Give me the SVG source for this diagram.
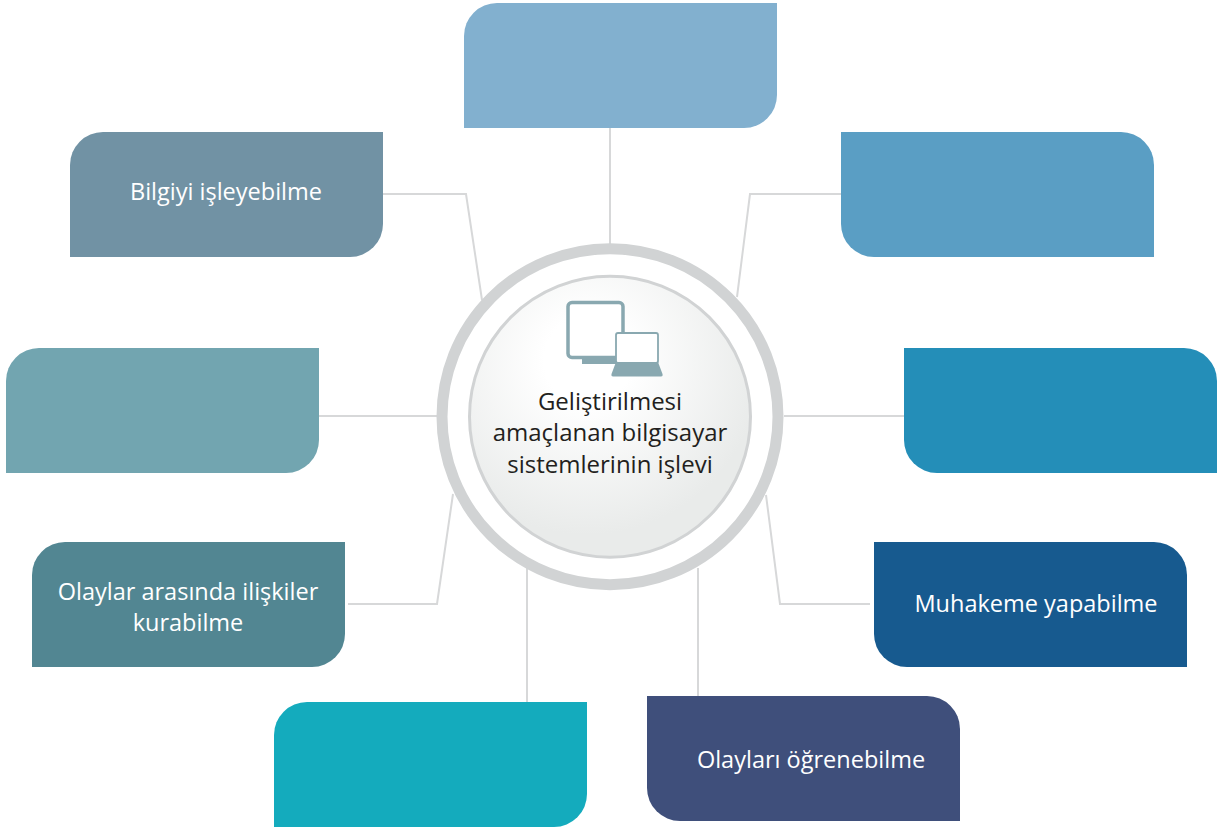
<svg xmlns="http://www.w3.org/2000/svg" width="1220" height="829" viewBox="0 0 1220 829">
<style>
.l{font-family:"Open Sans","Noto Sans",sans-serif;font-size:23.5px;fill:#fff;text-anchor:middle}
.c{font-family:"Open Sans","Noto Sans",sans-serif;font-size:24px;fill:#231f20;text-anchor:middle}
.w{fill:none;stroke:#d7d8d9;stroke-width:2}
</style>
<defs>
<path id="a" d="M33 0H313V92A33 33 0 0 1 280 125H0V33A33 33 0 0 1 33 0Z"/>
<path id="b" d="M0 0H280A33 33 0 0 1 313 33V125H33A33 33 0 0 1 0 92Z"/>
<radialGradient id="g" cx="0.42" cy="0.3" r="0.62"><stop offset="0.25" stop-color="#fff"/><stop offset="1" stop-color="#e9ebea"/></radialGradient>
</defs>
<rect width="1220" height="829" fill="#fff"/>
<g id="connectors">
<path class="w" d="M610 128V245"/>
<path class="w" d="M383 194H466L482 300"/>
<path class="w" d="M841 194H750L737 297"/>
<path class="w" d="M319 416H438"/>
<path class="w" d="M784 416H904"/>
<path class="w" d="M348 604H437L453 494"/>
<path class="w" d="M870 604H780L766 495"/>
<path class="w" d="M527 567V702"/>
<path class="w" d="M698 568V696"/>
</g>
<g id="node-top"><use href="#a" x="464" y="3" fill="#82b0cf"/></g>
<g id="node-tl"><use href="#a" x="70" y="132" fill="#7192a4"/><text class="l" x="226" y="200">Bilgiyi işleyebilme</text></g>
<g id="node-tr"><use href="#b" x="841" y="132" fill="#5a9ec4"/></g>
<g id="node-l"><use href="#a" x="6" y="348" fill="#72a5b0"/></g>
<g id="node-r"><use href="#b" x="904" y="348" fill="#248eb8"/></g>
<g id="node-bl"><use href="#a" x="32" y="542" fill="#528692"/><text class="l" x="188" y="600">Olaylar arasında ilişkiler</text><text class="l" x="188" y="631">kurabilme</text></g>
<g id="node-br"><use href="#b" x="874" y="542" fill="#175a8f"/><text class="l" x="1036" y="612">Muhakeme yapabilme</text></g>
<g id="node-b"><use href="#a" x="274" y="702" fill="#14abbd"/></g>
<g id="node-bc"><use href="#b" x="647" y="696" fill="#3f4f7b"/><text class="l" x="811" y="768">Olayları öğrenebilme</text></g>
<g id="center">
<circle cx="610" cy="416.7" r="168" fill="#fff" stroke="#d1d3d4" stroke-width="11"/>
<circle cx="610" cy="416.7" r="140.5" fill="url(#g)" stroke="#d1d3d4" stroke-width="3"/>
<g id="icon">
<path d="M582 359H618V364H582Z" fill="#89a8b0"/>
<rect x="568" y="302.500" width="55" height="55" rx="4" fill="#fff" stroke="#89a8b0" stroke-width="3.500"/>
<rect x="616" y="333" width="42" height="30" rx="2" fill="#fff" stroke="#89a8b0" stroke-width="1.800"/>
<path d="M616 362H658L662.500 374Q663 376.500 661 376.500H613Q611 376.500 611.500 374Z" fill="#89a8b0"/>
</g>
<text class="c" x="610" y="410">Geliştirilmesi</text>
<text class="c" x="610" y="441">amaçlanan bilgisayar</text>
<text class="c" x="610" y="473">sistemlerinin işlevi</text>
</g>
</svg>
